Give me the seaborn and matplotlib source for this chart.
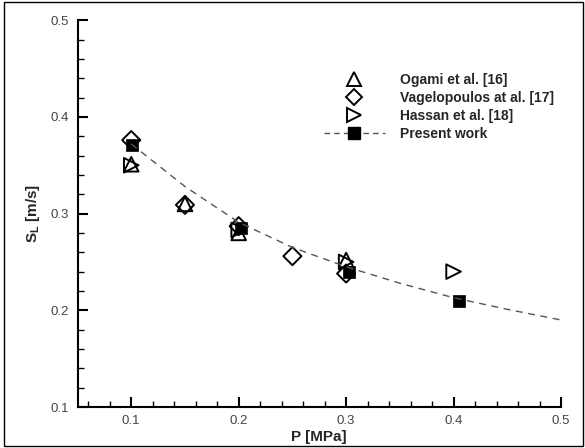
import matplotlib
matplotlib.use("Agg")
import matplotlib.pyplot as plt
import seaborn as sns
import pandas as pd
from matplotlib.lines import Line2D
from matplotlib.patches import Rectangle
from matplotlib.ticker import MultipleLocator

sns.set_theme(style="white")
plt.rcParams['font.family'] = ['Liberation Sans', 'DejaVu Sans']

# Data
ogami_p = [0.1, 0.15, 0.2, 0.3]
ogami_s = [0.351, 0.310, 0.280, 0.252]

vagel_p = [0.1, 0.15, 0.2, 0.25, 0.3]
vagel_s = [0.376, 0.309, 0.287, 0.256, 0.238]

hassan_p = [0.1, 0.2, 0.3, 0.4]
hassan_s = [0.350, 0.283, 0.250, 0.240]

present_p = [0.101, 0.202, 0.303, 0.405]
present_s = [0.371, 0.285, 0.240, 0.210]

curve_p = [0.1, 0.15, 0.2, 0.25, 0.3, 0.35, 0.4, 0.45, 0.5]
curve_s = [0.372, 0.328, 0.291, 0.265, 0.245, 0.228, 0.213, 0.201, 0.190]

labels = ["Ogami et al. [16]", "Vagelopoulos at al. [17]", "Hassan et al. [18]", "Present work"]

fig = plt.figure(figsize=(5.85, 4.48), dpi=100)
ax = fig.add_axes([0.1325, 0.0915, 0.8265, 0.8635])

sns.lineplot(x=curve_p, y=curve_s, ax=ax, color="#555555", lw=1.0,
             linestyle=(0, (5, 4)), legend=False)
sns.scatterplot(x=ogami_p, y=ogami_s, ax=ax, marker="^", s=110,
                facecolor="none", edgecolor="black", linewidth=1.4, legend=False)
sns.scatterplot(x=vagel_p, y=vagel_s, ax=ax, marker="D", s=85,
                facecolor="none", edgecolor="black", linewidth=1.4, legend=False)
sns.scatterplot(x=hassan_p, y=hassan_s, ax=ax, marker=">", s=110,
                facecolor="none", edgecolor="black", linewidth=1.4, legend=False)
sns.scatterplot(x=present_p, y=present_s, ax=ax, marker="s", s=75,
                color="black", edgecolor="black", linewidth=0.5, legend=False)

ax.set_xlim(0.05, 0.5)
ax.set_ylim(0.1, 0.5)
ax.xaxis.set_major_locator(MultipleLocator(0.1))
ax.xaxis.set_minor_locator(MultipleLocator(0.02))
ax.yaxis.set_major_locator(MultipleLocator(0.1))
ax.yaxis.set_minor_locator(MultipleLocator(0.02))
ax.set_xticks([0.1, 0.2, 0.3, 0.4, 0.5])
ax.set_xticklabels(["0.1", "0.2", "0.3", "0.4", "0.5"])
ax.set_yticks([0.1, 0.2, 0.3, 0.4, 0.5])
ax.set_yticklabels(["0.1", "0.2", "0.3", "0.4", "0.5"])
ax.tick_params(which="major", direction="in", length=7, width=1.5, color="black",
               labelsize=9.5, labelcolor="#444444", pad=6)
ax.tick_params(which="minor", direction="in", length=4, width=1.0, color="black")
ax.tick_params(axis="x", which="both", bottom=True)
ax.tick_params(axis="y", which="both", left=True)

for side in ["top", "right"]:
    ax.spines[side].set_visible(False)
for side in ["left", "bottom"]:
    ax.spines[side].set_color("black")
    ax.spines[side].set_linewidth(1.5)

ax.set_xlabel("P [MPa]", fontsize=11, fontweight="bold", labelpad=2)
ax.set_ylabel(r"S$_\mathregular{L}$ [m/s]", fontsize=11, fontweight="bold", labelpad=6)

handles = [
    Line2D([], [], marker="^", ls="none", mfc="none", mec="black", ms=10, mew=1.4),
    Line2D([], [], marker="D", ls="none", mfc="none", mec="black", ms=8.5, mew=1.4),
    Line2D([], [], marker=">", ls="none", mfc="none", mec="black", ms=10, mew=1.4),
    Line2D([], [], marker="s", color="#555555", ls=(0, (4, 3)), lw=1.0,
           mfc="black", mec="black", ms=8),
]
leg = fig.legend(handles, labels, loc="upper left", bbox_to_anchor=(0.553, 0.838),
                 bbox_transform=fig.transFigure, borderaxespad=0, borderpad=0,
                 frameon=False, handlelength=4.4, handletextpad=1.1,
                 labelspacing=0.3, prop={"weight": "bold", "size": 10})

fig.patches.append(Rectangle((0.006, 0.004), 0.99, 0.992, transform=fig.transFigure,
                             fill=False, edgecolor="black", linewidth=1.0))

fig.savefig("out.png", dpi=100)
